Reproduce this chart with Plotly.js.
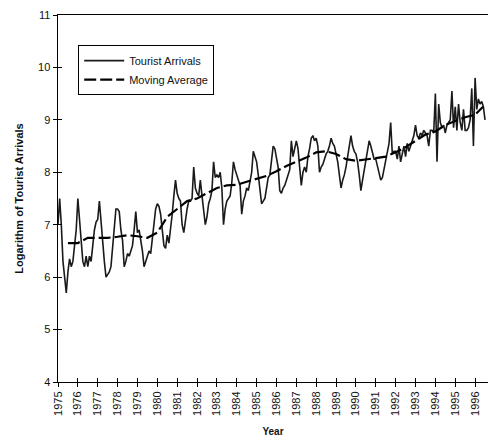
<!DOCTYPE html>
<html>
<head>
<meta charset="utf-8">
<script src="https://cdn.plot.ly/plotly-3.0.1.min.js"></script>
<style>html,body{margin:0;padding:0;background:#fff}#chart{width:488px;height:437px}</style>
</head>
<body>
<div id="chart"></div>
<script>
// Monthly log tourist arrivals, Jan..Dec of each year
const years = [1975,1976,1977,1978,1979,1980,1981,1982,1983,1984,1985,1986,1987,1988,1989,1990,1991,1992,1993,1994,1995,1996];
const arrivals = [
  [7.0, 7.5, 7.0, 6.3, 6.0, 5.7, 6.1, 6.35, 6.2, 6.3, 6.6, 6.9],
  [7.5, 7.1, 6.8, 6.3, 6.2, 6.4, 6.2, 6.4, 6.3, 6.6, 6.9, 7.05],
  [7.1, 7.45, 7.0, 6.6, 6.3, 6.0, 6.05, 6.1, 6.2, 6.6, 7.0, 7.3],
  [7.3, 7.25, 6.9, 6.7, 6.2, 6.3, 6.45, 6.4, 6.5, 6.6, 6.9, 7.25],
  [6.85, 6.9, 6.7, 6.5, 6.2, 6.3, 6.4, 6.5, 6.45, 6.7, 7.0, 7.3],
  [7.4, 7.35, 7.2, 6.85, 6.6, 6.55, 6.8, 6.65, 6.9, 7.2, 7.55, 7.85],
  [7.6, 7.5, 7.45, 7.0, 6.85, 7.1, 7.3, 7.45, 7.45, 7.5, 8.1, 7.7],
  [7.6, 7.55, 7.85, 7.55, 7.2, 7.0, 7.15, 7.4, 7.5, 7.65, 8.2, 7.9],
  [7.95, 7.9, 8.0, 7.7, 7.0, 7.3, 7.45, 7.5, 7.55, 7.8, 8.2, 8.05],
  [7.95, 7.85, 7.75, 7.2, 7.45, 7.55, 7.7, 7.65, 7.8, 8.0, 8.4, 8.3],
  [8.2, 7.95, 7.6, 7.4, 7.45, 7.5, 7.7, 7.9, 7.95, 8.2, 8.5, 8.45],
  [8.3, 8.1, 7.65, 7.6, 7.7, 7.75, 7.85, 7.95, 8.05, 8.6, 8.3, 8.45],
  [8.6, 8.45, 8.05, 7.75, 8.0, 8.1, 8.0, 8.3, 8.45, 8.65, 8.7, 8.6],
  [8.65, 8.5, 8.0, 8.1, 8.15, 8.25, 8.35, 8.4, 8.5, 8.65, 8.55, 8.5],
  [8.35, 8.2, 7.95, 7.7, 7.85, 7.95, 8.1, 8.3, 8.45, 8.7, 8.5, 8.4],
  [8.35, 8.2, 7.95, 7.65, 7.85, 8.05, 8.2, 8.45, 8.6, 8.5, 8.35, 8.25],
  [8.25, 8.1, 7.95, 7.85, 7.9, 8.05, 8.25, 8.4, 8.55, 8.95, 8.35, 8.4],
  [8.4, 8.25, 8.5, 8.2, 8.35, 8.5, 8.3, 8.55, 8.4, 8.5, 8.6, 8.7],
  [8.9, 8.7, 8.65, 8.75, 8.7, 8.8, 8.75, 8.7, 8.5, 8.8, 8.8, 8.75],
  [9.5, 8.2, 9.3, 8.95, 8.85, 8.9, 8.75, 8.9, 8.95, 9.0, 9.55, 8.85],
  [9.25, 8.8, 9.3, 8.95, 8.8, 9.2, 8.8, 8.8, 8.85, 9.0, 9.6, 8.5],
  [9.8, 9.2, 9.4, 9.3, 9.35, 9.25, 9.0]
];
// Moving average, read at half-year points
const maTime = [1975.5,1976.0,1976.5,1977.0,1977.5,1978.0,1978.5,1979.0,1979.5,1980.0,1980.5,1981.0,1981.5,1982.0,1982.5,1983.0,1983.5,1984.0,1984.5,1985.0,1985.5,1986.0,1986.5,1987.0,1987.5,1988.0,1988.5,1989.0,1989.5,1990.0,1990.5,1991.0,1991.5,1992.0,1992.5,1993.0,1993.5,1994.0,1994.5,1995.0,1995.5,1996.0,1996.4];
const maValues = [6.65,6.65,6.75,6.75,6.75,6.77,6.8,6.78,6.75,6.85,7.15,7.3,7.45,7.5,7.6,7.7,7.75,7.76,7.82,7.87,7.93,8.02,8.12,8.2,8.28,8.38,8.4,8.35,8.25,8.22,8.24,8.27,8.3,8.38,8.48,8.6,8.72,8.78,8.9,8.98,9.05,9.1,9.25];
const yearTicks = [1975,1976,1977,1978,1979,1980,1981,1982,1983,1984,1985,1986,1987,1988,1989,1990,1991,1992,1993,1994,1995,1996];
const yTicks = [4,5,6,7,8,9,10,11];

const tX = [], tY = [];
years.forEach((yr, i) => arrivals[i].forEach((v, m) => { tX.push(yr + m / 12); tY.push(v); }));

const font = {family: 'Liberation Sans, Arial, sans-serif', color: '#111'};
const xRange = [1975, 1996.65];
const yRange = [4, 11];

const traces = [
  {x: tX, y: tY, type: 'scatter', mode: 'lines', name: 'Tourist Arrivals',
   line: {color: '#1a1a1a', width: 1.6}},
  {x: maTime, y: maValues, type: 'scatter', mode: 'lines', name: 'Moving Average',
   line: {color: '#000', width: 2.2, dash: '12px,4px'}},
  // empty trace so the overlay axes (inside tick halves) are drawn
  {x: [], y: [], type: 'scatter', mode: 'lines', xaxis: 'x2', yaxis: 'y2',
   showlegend: false, hoverinfo: 'skip'}
];

const layout = {
  width: 488, height: 437,
  margin: {l: 58, r: 0, t: 15, b: 55},
  paper_bgcolor: '#fff', plot_bgcolor: '#fff',
  font: Object.assign({size: 11}, font),
  showlegend: true,
  legend: {x: 0.047, y: 0.918, xanchor: 'left', yanchor: 'top',
    bgcolor: '#fff', bordercolor: '#000', borderwidth: 1,
    font: Object.assign({size: 11}, font), itemwidth: 40, tracegroupgap: 0},
  xaxis: {range: xRange, tickvals: yearTicks, ticktext: yearTicks.map(String),
    tickangle: -90, ticks: 'outside', ticklen: 4, tickwidth: 1, tickcolor: '#000',
    showline: true, linecolor: '#000', linewidth: 1, mirror: true,
    showgrid: false, zeroline: false,
    tickfont: Object.assign({size: 11}, font),
    title: {text: '<b>Year</b>', font: Object.assign({size: 10}, font), standoff: 14}},
  yaxis: {range: yRange, tickvals: yTicks, ticks: 'outside', ticklen: 4, tickwidth: 1, tickcolor: '#000',
    showline: true, linecolor: '#000', linewidth: 1.5,
    showgrid: false, zeroline: false,
    tickfont: Object.assign({size: 11}, font),
    title: {text: '<b>Logarithm of Tourist Arrivals</b>', font: Object.assign({size: 11}, font), standoff: 12}},
  xaxis2: {range: xRange, overlaying: 'x', side: 'bottom', anchor: 'y2', tickvals: yearTicks, ticks: 'inside', ticklen: 4, tickcolor: '#000',
    showticklabels: false, showgrid: false, zeroline: false, showline: false},
  yaxis2: {range: yRange, overlaying: 'y', side: 'left', anchor: 'x2', tickvals: yTicks, ticks: 'inside', ticklen: 4, tickcolor: '#000',
    showticklabels: false, showgrid: false, zeroline: false, showline: false}
};

Plotly.newPlot('chart', traces, layout, {displayModeBar: false, staticPlot: true});
</script>
</body>
</html>
